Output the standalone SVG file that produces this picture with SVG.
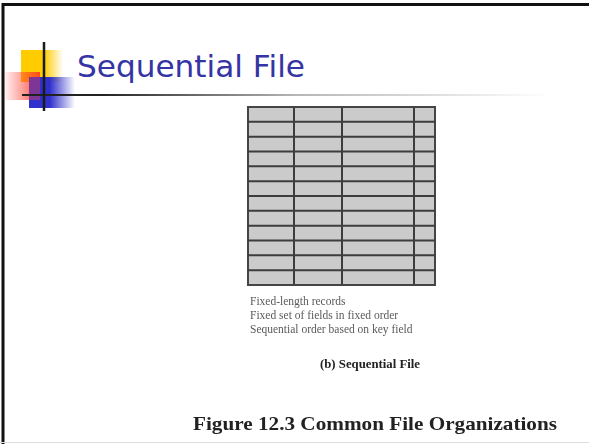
<svg xmlns="http://www.w3.org/2000/svg" width="589" height="444" viewBox="0 0 589 444">
<defs>
<style>
.title{font-family:"DejaVu Sans","Liberation Sans",sans-serif;font-size:31px;fill:#3434a4}
.note{font-family:"Liberation Serif",serif;font-size:11.5px;fill:#5a5a5a}
.cap{font-family:"Liberation Serif",serif;font-weight:bold;fill:#222}
.grid{stroke:#3c3c3c;stroke-width:2}
</style>
<linearGradient id="yel" x1="0" x2="1" y1="0" y2="0"><stop offset="0.55" stop-color="#ffcc00"/><stop offset="1" stop-color="#ffcc00" stop-opacity="0"/></linearGradient>
<linearGradient id="red" x1="1" x2="0" y1="0" y2="0"><stop offset="0" stop-color="#ff3a20" stop-opacity="0.9"/><stop offset="1" stop-color="#ff3a3a" stop-opacity="0.05"/></linearGradient>
<linearGradient id="blu" x1="0" x2="1" y1="0" y2="0"><stop offset="0.45" stop-color="#3030cc"/><stop offset="1" stop-color="#3030cc" stop-opacity="0"/></linearGradient>
<linearGradient id="hl" gradientUnits="userSpaceOnUse" x1="22" x2="550" y1="0" y2="0"><stop offset="0.15" stop-color="#222"/><stop offset="0.52" stop-color="#222" stop-opacity="0.33"/><stop offset="1" stop-color="#222" stop-opacity="0"/></linearGradient>
<filter id="soft" x="-5%" y="-5%" width="110%" height="110%"><feGaussianBlur stdDeviation="0.6"/></filter>
</defs>
<rect width="589" height="444" fill="#fff"/>
<g id="frame">
<line x1="2" y1="4.5" x2="589" y2="4.5" stroke="#111" stroke-width="3"/>
<line x1="3" y1="3" x2="3" y2="444" stroke="#111" stroke-width="3"/>
<line x1="0" y1="442.5" x2="589" y2="442.5" stroke="#ddd" stroke-width="1"/>
</g>
<g id="logo">
<rect x="21" y="50" width="42" height="32" fill="url(#yel)"/>
<rect x="4" y="72" width="36" height="28" fill="url(#red)"/>
<rect x="29" y="77" width="46" height="31" fill="url(#blu)"/>
<rect x="29" y="77" width="11" height="23" fill="#b03a70" opacity="0.6"/>
<rect x="22" y="94" width="528" height="2" fill="url(#hl)"/>
<line x1="44" y1="42" x2="44" y2="111" stroke="#1a1a1a" stroke-width="2.5"/>
</g>
<g id="title"><text class="title" x="77" y="77" textLength="228" lengthAdjust="spacingAndGlyphs">Sequential File</text></g>
<g id="table" filter="url(#soft)">
<rect x="248" y="107" width="187" height="178" fill="#cbcbcb" stroke="#444" stroke-width="2"/>
<g class="grid">
<line x1="294" y1="107" x2="294" y2="285"/>
<line x1="342" y1="107" x2="342" y2="285"/>
<line x1="414" y1="107" x2="414" y2="285"/>
<line x1="248" y1="121.8" x2="435" y2="121.8"/>
<line x1="248" y1="136.7" x2="435" y2="136.7"/>
<line x1="248" y1="151.5" x2="435" y2="151.5"/>
<line x1="248" y1="166.3" x2="435" y2="166.3"/>
<line x1="248" y1="181.2" x2="435" y2="181.2"/>
<line x1="248" y1="196" x2="435" y2="196"/>
<line x1="248" y1="210.8" x2="435" y2="210.8"/>
<line x1="248" y1="225.7" x2="435" y2="225.7"/>
<line x1="248" y1="240.5" x2="435" y2="240.5"/>
<line x1="248" y1="255.3" x2="435" y2="255.3"/>
<line x1="248" y1="270.2" x2="435" y2="270.2"/>
</g>
</g>
<g id="notes" filter="url(#soft)">
<text class="note" x="250" y="305">Fixed-length records</text>
<text class="note" x="250" y="319">Fixed set of fields in fixed order</text>
<text class="note" x="250" y="333">Sequential order based on key field</text>
<text class="cap" x="320" y="368" font-size="12" textLength="100" lengthAdjust="spacingAndGlyphs">(b) Sequential File</text>
<text class="cap" x="193" y="430" font-size="19" textLength="364" lengthAdjust="spacingAndGlyphs">Figure 12.3  Common File Organizations</text>
</g>
</svg>
